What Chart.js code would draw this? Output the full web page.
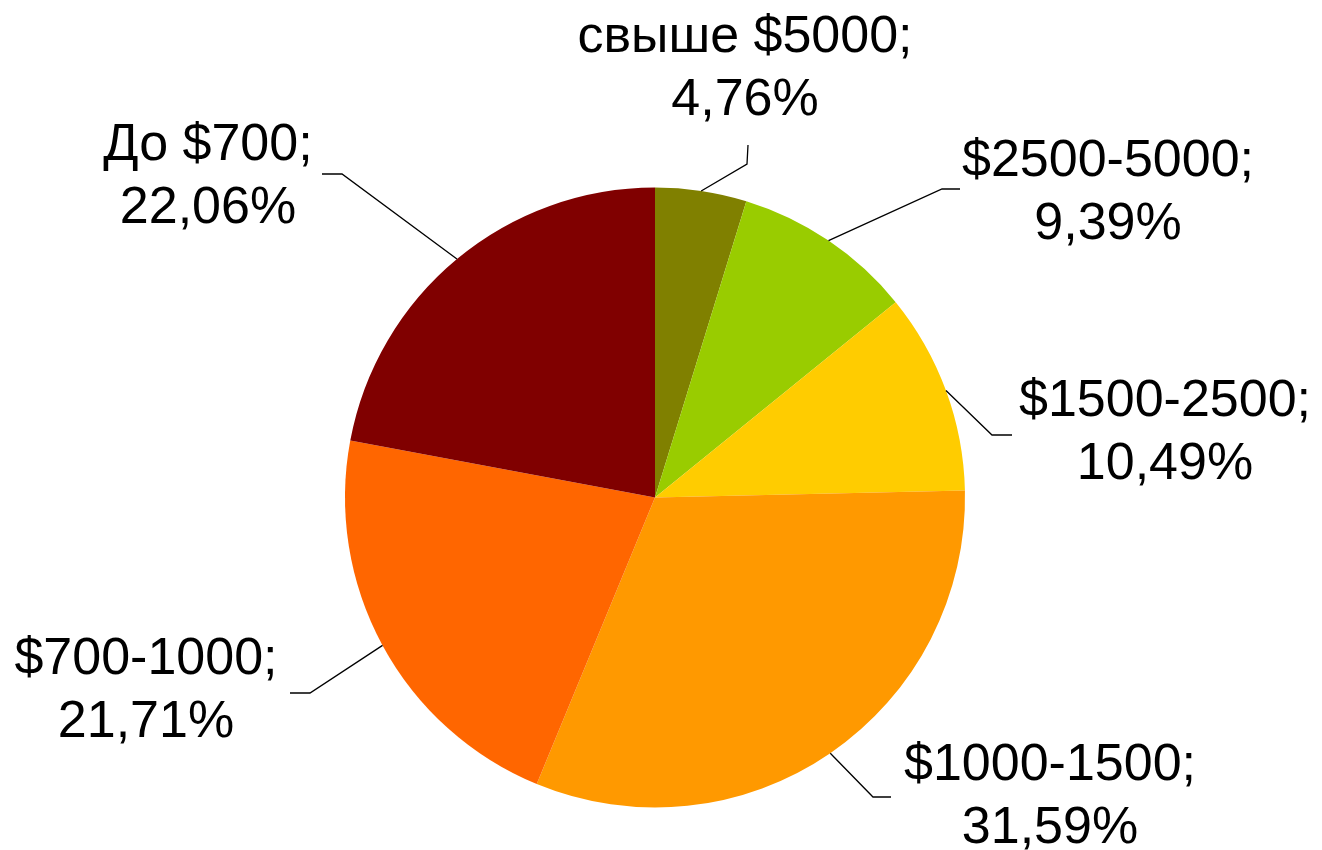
<!DOCTYPE html>
<html lang="ru">
<head>
<meta charset="UTF-8">
<title>Pie</title>
<style>
	*{ margin: 0; padding: 0; box-sizing: border-box; }
	body{ background: #fff; }
	.chartbox{ width: 1322px; height: 850px; }
</style>
</head>
<body>
<div class="chartbox">
	<canvas id="myChart" width="1322" height="850"></canvas>
</div>

<script src="https://cdn.jsdelivr.net/npm/chart.js"></script>
<script>
// data
const categories = ['свыше $5000', '$2500-5000', '$1500-2500', '$1000-1500', '$700-1000', 'До $700'];
const shares = [4.76, 9.39, 10.49, 31.59, 21.71, 22.06];
const colors = ['#808000', '#99CC00', '#FFCC00', '#FF9900', '#FF6600', '#800000'];

// where each label sits: leader bend, leader end, text centre (x, first line y)
const labelLayout = [
	{ bend: [747, 164], end: [748, 145], text: [745, 38] },
	{ bend: [942, 189], end: [960, 189], text: [1108, 162] },
	{ bend: [992, 435], end: [1012, 435], text: [1165, 402] },
	{ bend: [873, 797], end: [891, 797], text: [1050, 766] },
	{ bend: [310, 693], end: [290, 693], text: [146, 660] },
	{ bend: [342, 174], end: [322, 174], text: [208, 146] }
];

const pieLabels = {
	id: 'pieLabels',
	afterDatasetsDraw(chart){
		const ctx = chart.ctx;
		const arcs = chart.getDatasetMeta(0).data;
		ctx.save();
		ctx.strokeStyle = '#000';
		ctx.lineWidth = 1.3;
		arcs.forEach((arc, i) => {
			const p = arc.getProps(['x', 'y', 'startAngle', 'endAngle', 'outerRadius'], true);
			const mid = (p.startAngle + p.endAngle) / 2;
			const sx = p.x + Math.cos(mid) * p.outerRadius;
			const sy = p.y + Math.sin(mid) * p.outerRadius;
			const L = labelLayout[i];
			ctx.beginPath();
			ctx.moveTo(sx, sy);
			ctx.lineTo(L.bend[0], L.bend[1]);
			ctx.lineTo(L.end[0], L.end[1]);
			ctx.stroke();

			ctx.fillStyle = '#000';
			ctx.font = '52px "Liberation Sans", Arial, sans-serif';
			ctx.textAlign = 'center';
			ctx.textBaseline = 'middle';
			const pct = shares[i].toFixed(2).replace('.', ',') + '%';
			ctx.fillText(categories[i] + ';', L.text[0], L.text[1]);
			ctx.fillText(pct, L.text[0], L.text[1] + 63);
		});
		ctx.restore();
	}
};

const data = {
	labels: categories,
	datasets: [{
		data: shares,
		backgroundColor: colors,
		borderWidth: 0
	}]
};

const config = {
	type: 'pie',
	data,
	options: {
		responsive: false,
		animation: false,
		layout: { padding: { top: 187, bottom: 42, left: 345, right: 357 } },
		plugins: {
			legend: { display: false },
			tooltip: { enabled: false }
		}
	},
	plugins: [pieLabels]
};

const myChart = new Chart(document.getElementById('myChart'), config);
</script>
</body>
</html>
